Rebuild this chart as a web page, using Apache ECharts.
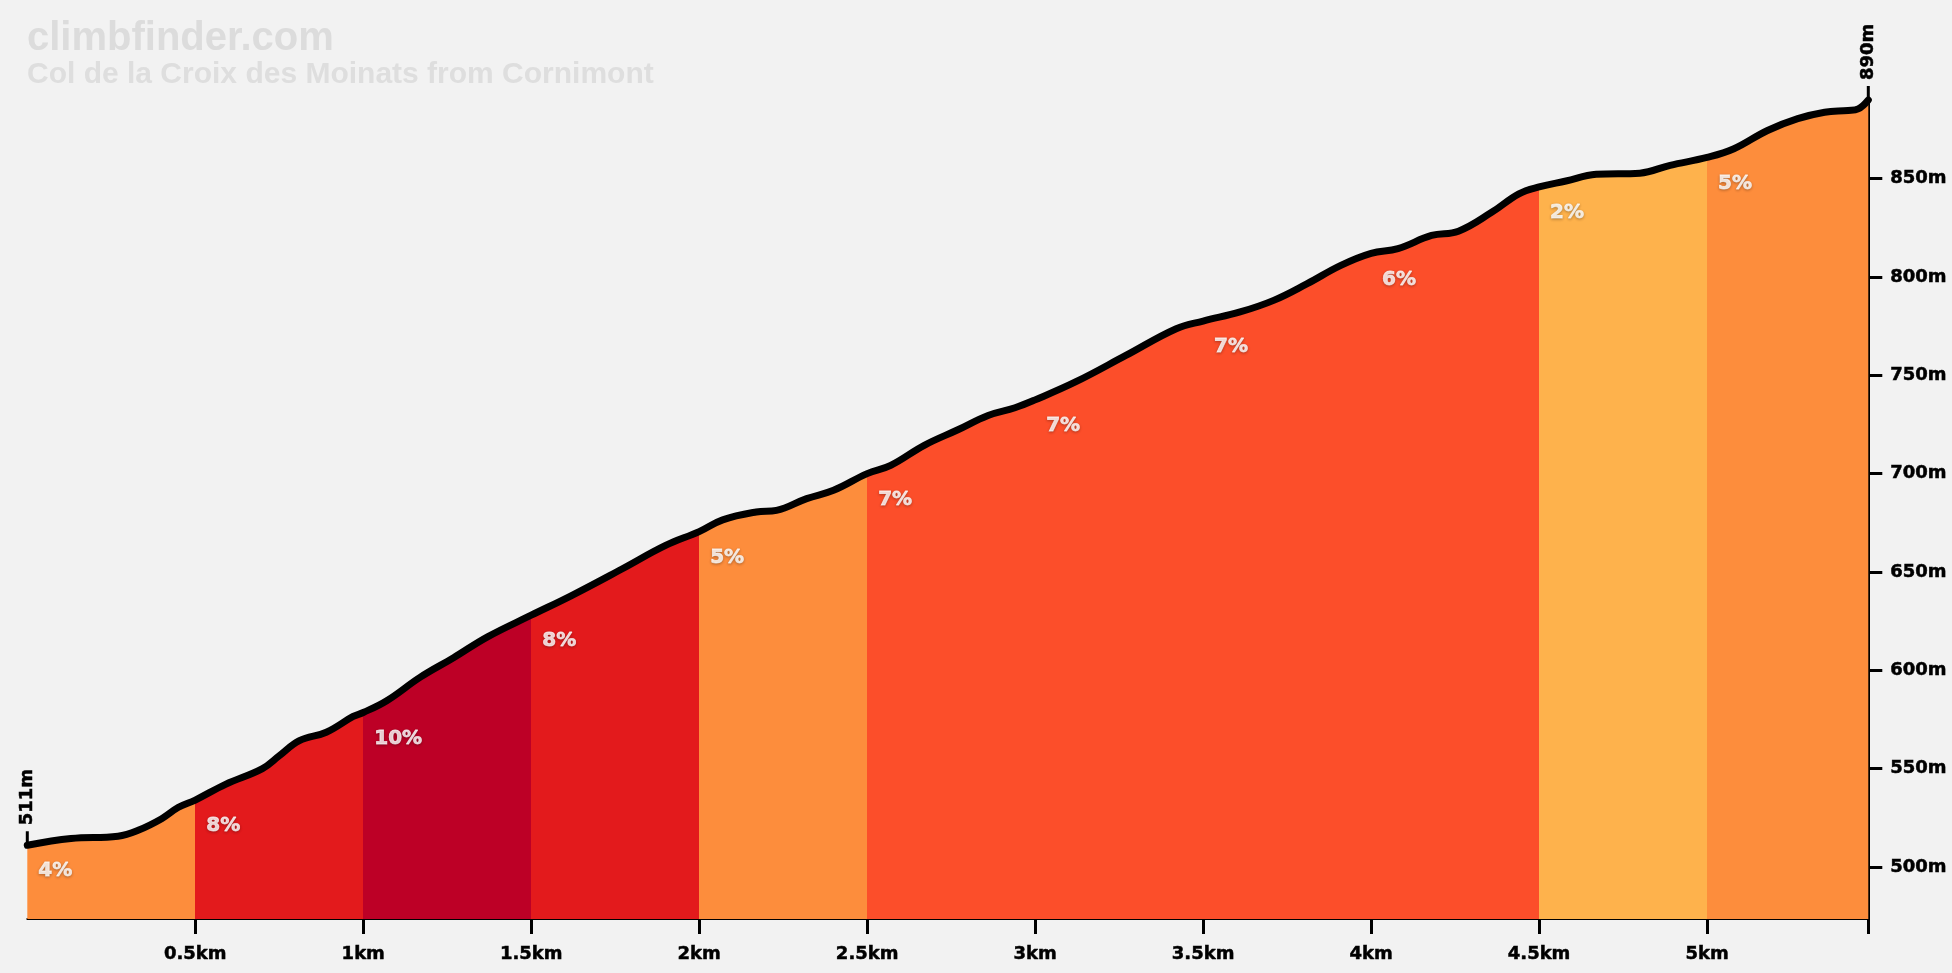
<!DOCTYPE html>
<html>
<head>
<meta charset="utf-8">
<script src="https://cdn.jsdelivr.net/npm/echarts@6/dist/echarts.min.js"></script>
<style>
  html, body { margin: 0; padding: 0; background: #f2f2f2; }
  #profile { width: 1952px; height: 973px; }
</style>
</head>
<body>
<div id="profile"></div>
<script>
// profile: distance (km) / elevation (m)
const distance = [0, 0.13, 0.27, 0.33, 0.40, 0.45, 0.50, 0.59, 0.70, 0.75, 0.81, 0.89, 0.97, 1.00,
  1.07, 1.17, 1.27, 1.37, 1.50, 1.62, 1.77, 1.90, 2.00, 2.07, 2.17, 2.23, 2.32, 2.40, 2.50,
  2.57, 2.67, 2.77, 2.86, 2.94, 3.00, 3.12, 3.27, 3.42, 3.50, 3.61, 3.71, 3.81, 3.91, 4.00,
  4.08, 4.18, 4.26, 4.36, 4.44, 4.50, 4.58, 4.67, 4.80, 4.89, 5.00, 5.08, 5.18, 5.27, 5.35,
  5.42, 5.45, 5.48]
const elevation = [511, 514.4, 515.6, 518.6, 524.5, 530.3, 534, 542, 550, 556.5, 564.2, 568.5, 576.5, 578.5,
  584.5, 596.5, 606.5, 617, 628, 638, 651.5, 663.5, 670.5, 676.5, 680.5, 681.3, 687.3, 691.5, 700,
  704.2, 714.4, 722.3, 729.6, 733.5, 737.5, 746.6, 760.1, 773.7, 777.6, 782.2, 788.1, 796.6, 805.9, 812,
  814.4, 821.1, 823.3, 833, 842.3, 845.8, 848.8, 852.2, 852.8, 856.8, 860.8, 865.2, 874.5, 880.5, 883.8,
  884.7, 885.5, 890]

// gradient of every 0.5km piece
const segStart = [0, 0.5, 1, 1.5, 2, 2.5, 3, 3.5, 4, 4.5, 5]
const segGrade = [4, 8, 10, 8, 5, 7, 7, 7, 6, 2, 5]

const yTicks = [500, 550, 600, 650, 700, 750, 800, 850]
const xTicks = [0.5, 1, 1.5, 2, 2.5, 3, 3.5, 4, 4.5, 5]

const totalKm = distance[distance.length - 1]
const summit = elevation[elevation.length - 1]

function gradeColor(g) {
  if (g >= 10) return '#bd0026'
  if (g >= 8) return '#e31a1c'
  if (g >= 6) return '#fc4e2a'
  if (g >= 3) return '#fd8d3c'
  return '#feb24c'
}

const points = distance.map((d, i) => [d, elevation[i]])
const labelPoints = segStart.map((s, i) => {
  const k = distance.indexOf(s)
  return { value: [s, elevation[k]], grade: segGrade[i] }
})
const pieces = segStart.map((s, i) => ({
  gte: s,
  lt: i < segStart.length - 1 ? segStart[i + 1] : totalKm + 1,
  color: gradeColor(segGrade[i])
}))

// heavy black axis text (small stroke to fatten DejaVu bold a little)
const axisFont = {
  fontFamily: 'DejaVu Sans', fontWeight: 'bold', fontSize: 18, color: '#000',
  textBorderColor: '#000', textBorderWidth: 0.5
}

const chart = echarts.init(document.getElementById('profile'))
const option = {
  backgroundColor: '#f2f2f2',
  animation: false,
  graphic: [
    {
      type: 'text', x: 27, y: 19, z: 10,
      style: { text: 'climbfinder.com', font: 'bold 40px "Liberation Sans"', fill: '#dcdcdc', verticalAlign: 'top' }
    },
    {
      type: 'text', x: 27, y: 60, z: 10,
      style: { text: 'Col de la Croix des Moinats from Cornimont', font: 'bold 30px "Liberation Sans"', fill: '#dedede', verticalAlign: 'top' }
    }
  ],
  grid: { left: 27.3, right: 83.7, top: 100, bottom: 54 },
  xAxis: {
    type: 'value',
    min: 0,
    max: totalKm,
    axisLine: { onZero: false, lineStyle: { color: '#000', width: 2 } },
    axisTick: { show: true, length: 15, lineStyle: { color: '#000', width: 3 }, customValues: xTicks.concat([totalKm]) },
    axisLabel: { ...axisFont, margin: 26, customValues: xTicks, formatter: v => v + 'km' },
    splitLine: { show: false }
  },
  yAxis: {
    type: 'value',
    position: 'right',
    min: 473.5,
    max: summit,
    axisLine: { show: true, onZero: false, lineStyle: { color: '#000', width: 2 } },
    axisTick: { show: true, length: 14, lineStyle: { color: '#000', width: 3 }, customValues: yTicks },
    axisLabel: { ...axisFont, margin: 22, customValues: yTicks, formatter: v => v + 'm' },
    splitLine: { show: false }
  },
  visualMap: {
    show: false,
    type: 'piecewise',
    seriesIndex: 0,
    dimension: 0,
    pieces: pieces
  },
  series: [
    {
      type: 'line',
      data: points,
      smooth: 0.4,
      symbol: 'none',
      lineStyle: { width: 0 },
      areaStyle: { opacity: 1 },
      z: 1
    },
    {
      type: 'line',
      data: points,
      smooth: 0.4,
      symbol: 'none',
      clip: false,
      lineStyle: { color: '#000', width: 7, cap: 'round', join: 'round' },
      z: 3,
      markPoint: {
        symbol: 'rect',
        symbolSize: [3, 14],
        symbolOffset: [0, -7],
        itemStyle: { color: '#000' },
        label: {
          show: true, position: 'top', distance: 6, rotate: 90,
          align: 'left', verticalAlign: 'middle', ...axisFont,
          formatter: p => p.value + 'm'
        },
        data: [
          { coord: [0, elevation[0]], value: elevation[0] },
          { coord: [totalKm, summit], value: summit }
        ]
      }
    },
    {
      type: 'scatter',
      data: labelPoints,
      symbolSize: 0,
      z: 4,
      label: {
        show: true,
        position: 'right',
        distance: 0,
        offset: [11, 26],
        formatter: p => p.data.grade + '%',
        fontFamily: 'DejaVu Sans',
        fontWeight: 'bold',
        fontSize: 20,
        color: '#ffffff',
        textBorderColor: '#ffffff',
        textBorderWidth: 0.8,
        textShadowColor: 'rgba(0,0,0,0.3)',
        textShadowBlur: 3,
        textShadowOffsetY: 1
      }
    }
  ]
}
chart.setOption(option)
</script>
</body>
</html>
